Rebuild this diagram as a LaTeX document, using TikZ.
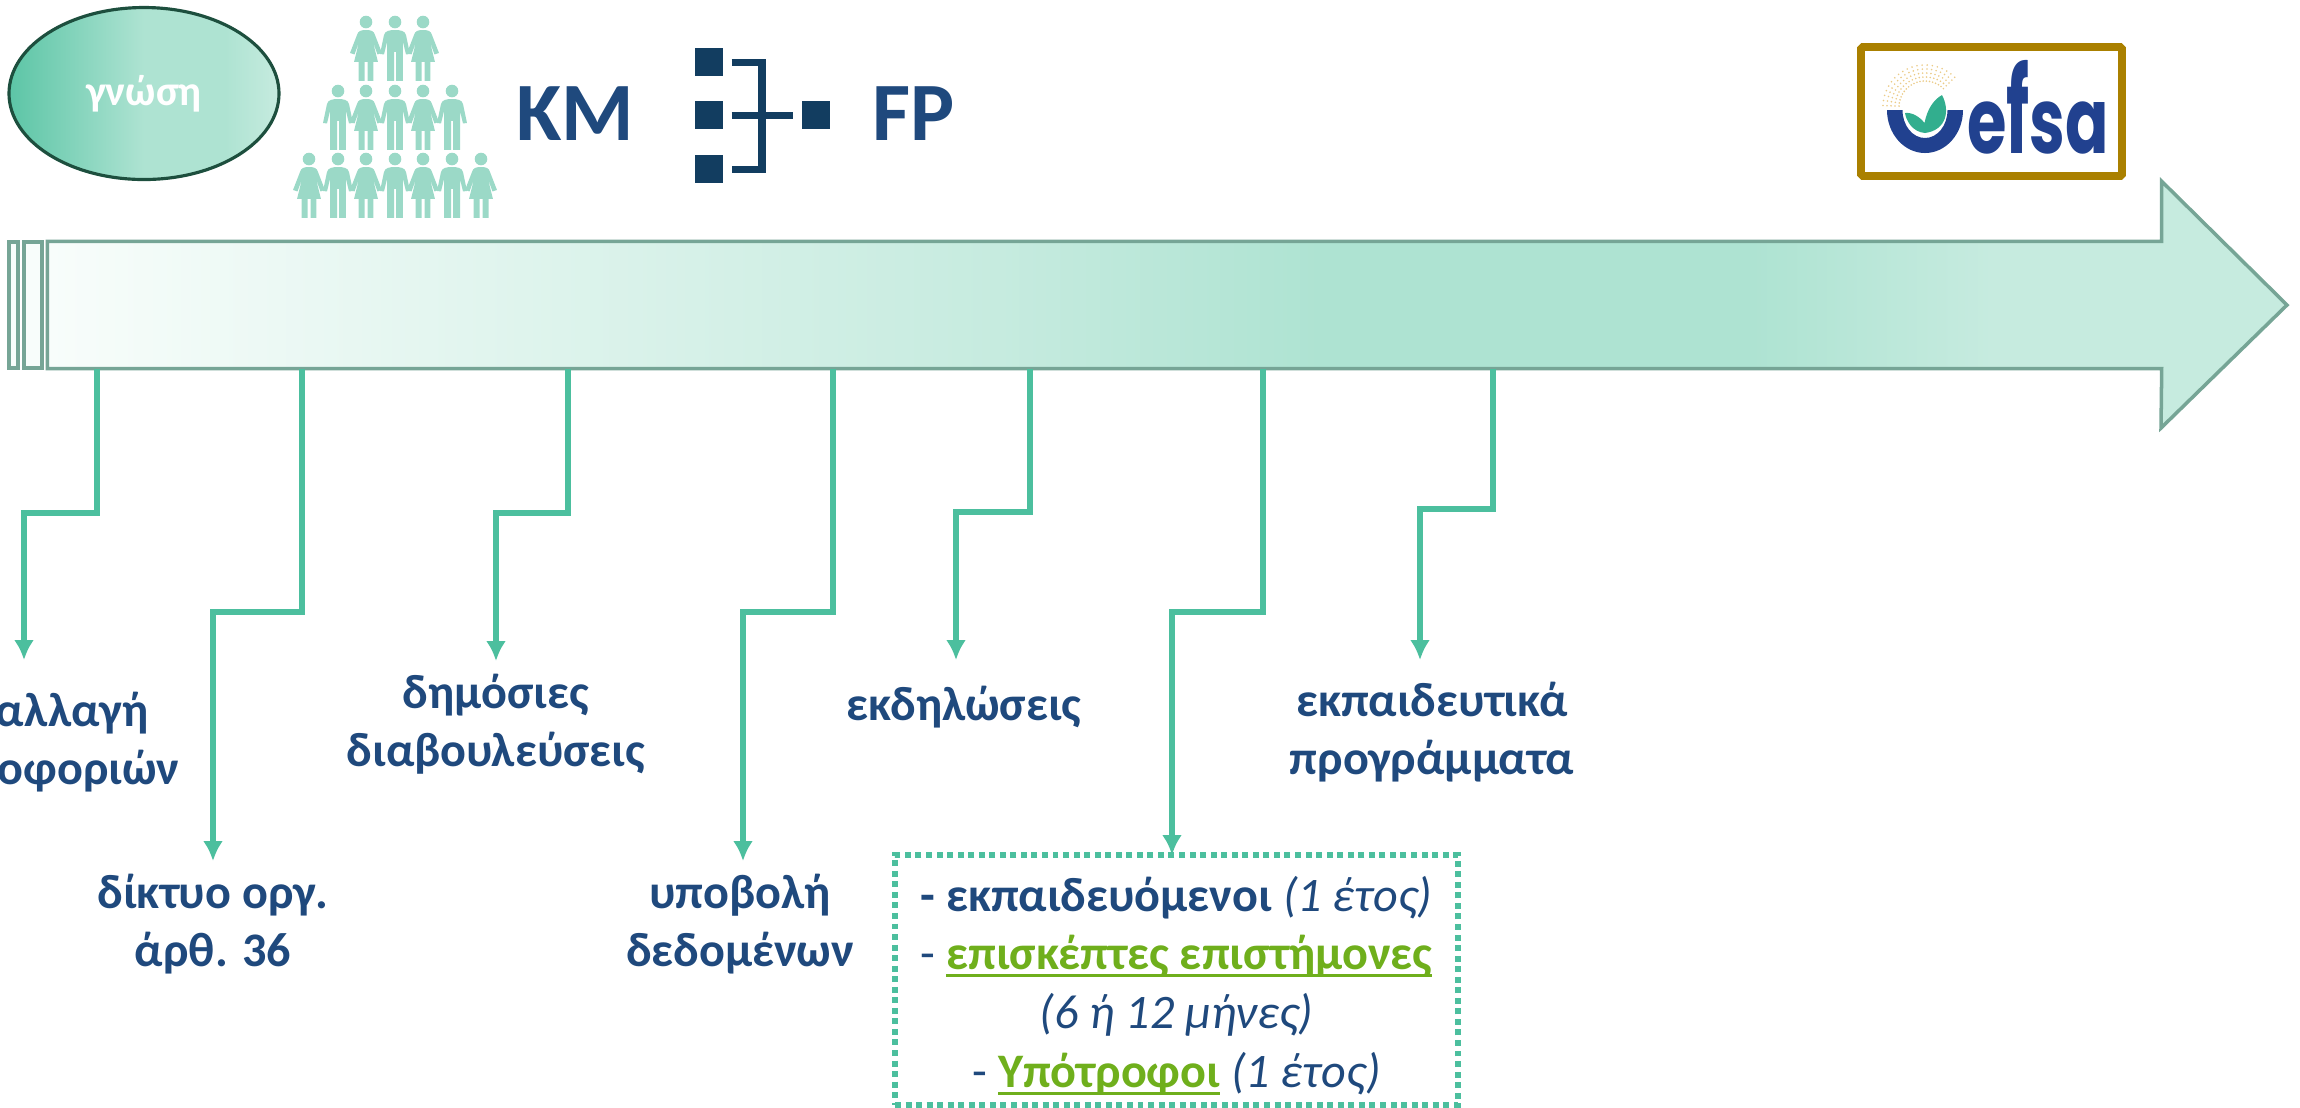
\documentclass[tikz,border=0pt]{standalone}
\usepackage{fontspec}
\usepackage{graphicx}
\setmainfont{Carlito}
\newfontfamily\logofont{Poppins}
\definecolor{labelblue}{HTML}{1F497D}
\definecolor{linkgreen}{HTML}{4CBF9E}
\definecolor{peoplegreen}{HTML}{9BD9C7}
\definecolor{orgblue}{HTML}{123D60}
\definecolor{visitgreen}{HTML}{6FAF1C}
\definecolor{edgegrey}{HTML}{76A596}
\definecolor{headgreen}{HTML}{C6EBDF}
\definecolor{midgreen}{HTML}{AEE3D2}
\definecolor{palegreen}{HTML}{F8FDFB}
\definecolor{logoblue}{HTML}{21418F}
\definecolor{logoleaf}{HTML}{32AE8E}
\definecolor{logodots}{HTML}{EBCB88}
\definecolor{logogold}{HTML}{AA8000}
\definecolor{knowedge}{HTML}{1D4F3E}
\definecolor{knowleft}{HTML}{5CC5A6}
\pgfdeclarehorizontalshading{shaftshade}{100bp}{color(0bp)=(palegreen); color(25bp)=(palegreen); color(47.5bp)=(headgreen); color(55.1bp)=(midgreen); color(65.3bp)=(midgreen); color(71bp)=(headgreen); color(100bp)=(headgreen)}
\pgfdeclarehorizontalshading{knowshade}{100bp}{color(0bp)=(knowleft); color(25bp)=(knowleft); color(50bp)=(midgreen); color(65bp)=(midgreen); color(75bp)=(headgreen); color(100bp)=(headgreen)}
\newcommand{\undertext}[1]{\setbox0=\hbox{#1}\rlap{\rule[-0.15em]{\wd0}{0.055em}}\box0}
\tikzset{
  labeltext/.style={align=center,inner xsep=0pt,inner ysep=.15cm,anchor=north,text=labelblue,
    font=\fontsize{13.7}{16.7}\selectfont\bfseries,execute at begin node=\strut},
  link/.style={draw=linkgreen,line width=1.6pt,shorten >=-.03cm,-{Latex[length=.2cm,width=.2cm]}},
  stripe/.style={draw=edgegrey,line width=1pt,fill=palegreen,inner sep=0pt,minimum height=1.26cm},
  orgsquare/.style={fill=orgblue,inner sep=0pt,minimum width=.28cm,minimum height=.28cm},
  orgline/.style={draw=orgblue,line width=2pt},
  bigtext/.style={text=labelblue,font=\fontsize{23.6}{28}\selectfont\bfseries,anchor=base,inner sep=0pt},
  woman/.pic={
    \fill[peoplegreen] (0,-6) circle[radius=6.3];
    \fill[peoplegreen] (0,-14) .. controls (-5,-14) and (-8,-15) .. (-9,-19) -- (-16,-37) -- (-11.5,-38.5) -- (-7,-26) -- (-12,-46) -- (-7.5,-46) -- (-7.5,-65) -- (-1.5,-65) -- (-1.5,-46) -- (1.5,-46) -- (1.5,-65) -- (7.5,-65) -- (7.5,-46) -- (12,-46) -- (7,-26) -- (11.5,-38.5) -- (16,-37) -- (9,-19) .. controls (8,-15) and (5,-14) .. (0,-14) -- cycle;
  },
  man/.pic={
    \fill[peoplegreen] (0,-6) circle[radius=6.3];
    \fill[peoplegreen] (0,-14) .. controls (-6,-14) and (-10,-15) .. (-11,-19) -- (-15,-38) -- (-11,-38.5) -- (-8,-26) -- (-8,-65) -- (-1,-65) -- (-1,-36) -- (1,-36) -- (1,-65) -- (8,-65) -- (8,-26) -- (11,-38.5) -- (15,-38) -- (11,-19) .. controls (10,-15) and (6,-14) .. (0,-14) -- cycle;
  },
}
\usetikzlibrary{arrows.meta,shapes.geometric}
\begin{document}
\begin{tikzpicture}
\useasboundingbox (0,0) rectangle (23,-11.07);
% top row
\node[ellipse,draw=knowedge,line width=.9pt,shading=knowshade,minimum width=2.7cm,minimum height=1.72cm,inner sep=0pt,
  text=white,font=\fontsize{12}{14}\selectfont\bfseries] (know) at (1.44,-.935) {\raisebox{-.04cm}{γνώση}};
\foreach \x/\kind in {3.66/woman,3.95/man,4.23/woman}
  \pic[scale=.01] at (\x,-.16) {\kind};
\foreach \x/\kind in {3.38/man,3.66/woman,3.95/man,4.23/woman,4.52/man}
  \pic[scale=.01] at (\x,-.85) {\kind};
\foreach \x/\kind in {3.09/woman,3.38/man,3.66/woman,3.95/man,4.23/woman,4.52/man,4.81/woman}
  \pic[scale=.01] at (\x,-1.53) {\kind};
\node[bigtext] (km) at (5.75,-1.4) {ΚΜ};
\node[orgsquare] (sq1) at (7.09,-.62) {};
\node[orgsquare] (sq2) at (7.09,-1.15) {};
\node[orgsquare] (sq3) at (7.09,-1.69) {};
\node[orgsquare] (sq4) at (8.16,-1.15) {};
\coordinate (orgmid) at (7.62,-1.15);
\draw[orgline,shorten <=.08cm,shorten >=.08cm] (sq1.east) -| (orgmid) |- (sq3.east);
\draw[orgline,shorten <=.08cm,shorten >=.08cm] (sq2.east) -- (sq4.west);
\node[bigtext] (fp) at (9.14,-1.4) {FP};
% logo
\foreach \r in {2.6,3,3.4,3.8,4.2}
  \foreach \a in {45,52,...,180}
    \fill[logodots] (19.25,-1.07) ++(\a:.1*\r) circle[radius=.009];
\fill[logoblue] (18.87,-1.1) arc[start angle=180,end angle=360,x radius=.38,y radius=.43] -- ++(-.155,0) arc[start angle=0,end angle=-180,x radius=.225,y radius=.28] -- cycle;
\fill[logoleaf] (19.25,-1.33) .. controls (19.12,-1.32) and (19.06,-1.2) .. (19.05,-1.13) .. controls (19.12,-1.12) and (19.2,-1.17) .. (19.245,-1.23) .. controls (19.27,-1.1) and (19.33,-1) .. (19.42,-.95) .. controls (19.5,-1.1) and (19.47,-1.3) .. (19.25,-1.33) -- cycle;
\node[text=logoblue,inner sep=0pt,anchor=base west,xscale=.7,font=\logofont\bfseries\fontsize{26}{30}\selectfont] (efsa) at (19.67,-1.53) {e\scalebox{1}[1.3]{f}sa};
\node[draw=logogold,line width=2.2pt,rounded corners=.5pt,minimum width=2.61cm,minimum height=1.29cm,inner sep=0pt] (logo) at (19.915,-1.115) {};
% time arrow
\node[stripe,minimum width=.09cm] (bar1) at (.135,-3.05) {};
\node[stripe,minimum width=.18cm] (bar2) at (.33,-3.05) {};
\node[shading=shaftshade,minimum width=21.13cm,minimum height=1.26cm,inner sep=0pt] (shaft) at (11.045,-3.05) {};
\fill[headgreen] ([xshift=-.02cm]shaft.north east) -- ++(.02,0) -- ++(0,.6) -- (22.87,-3.05) -- (21.61,-4.28) -- (shaft.south east) -- ++(-.02,0) -- cycle;
\draw[edgegrey,line width=1pt] (shaft.north east) -- ++(0,.6) -- (22.87,-3.05) -- (21.61,-4.28) -- (shaft.south east) -- (shaft.south west) -- (shaft.north west) -- cycle;
% labels
\node[labeltext,inner ysep=.34cm] (exch) at (.37,-6.57) {ανταλλαγή\\πληροφοριών};
\node[labeltext] (net) at (2.13,-8.58) {δίκτυο οργ.\\άρθ. 36};
\node[labeltext] (cons) at (4.96,-6.58) {δημόσιες\\διαβουλεύσεις};
\node[labeltext] (data) at (7.4,-8.58) {υποβολή\\δεδομένων};
\node[labeltext,inner ysep=.22cm] (events) at (9.64,-6.57) {εκδηλώσεις};
\node[labeltext,inner ysep=.24cm] (train) at (14.32,-6.57) {εκπαιδευτικά\\προγράμματα};
\node[draw=linkgreen,line width=1.7pt,dash pattern=on 1.7pt off 1.3pt,minimum width=5.63cm,minimum height=2.5cm,inner sep=0pt,align=center,
  text=labelblue,font=\fontsize{13.7}{16.7}\selectfont] (trainees) at (11.765,-9.8) {%
  \rule{0pt}{.46cm}\textbf{- εκπαιδευόμενοι} \textit{(1 έτος)}\\
  - \textcolor{visitgreen}{\undertext{\textbf{επισκέπτες επιστήμονες}}}\\
  \textit{(6 ή 12 μήνες)}\\
  - \textcolor{visitgreen}{\undertext{\textbf{Υπότροφοι}}} \textit{(1 έτος)}};
% connectors
\coordinate (e1) at (.97,-5.13);
\coordinate (e2) at (3.02,-6.12);
\coordinate (e3) at (5.68,-5.13);
\coordinate (e4) at (8.33,-6.12);
\coordinate (e5) at (10.3,-5.12);
\coordinate (e6) at (12.63,-6.12);
\coordinate (e7) at (14.93,-5.09);
\draw[link] (shaft.south -| e1) -- (e1) -| ([xshift=-.13cm]exch.north);
\draw[link] (shaft.south -| e2) -- (e2) -| (net.north);
\draw[link] (shaft.south -| e3) -- (e3) -| (cons.north);
\draw[link] (shaft.south -| e4) -- (e4) -| ([xshift=.03cm]data.north);
\draw[link] (shaft.south -| e5) -- (e5) -| ([xshift=-.08cm]events.north);
\draw[link] (shaft.south -| e6) -- (e6) -| ([xshift=-.045cm]trainees.north);
\draw[link] (shaft.south -| e7) -- (e7) -| ([xshift=-.12cm]train.north);
\end{tikzpicture}
\end{document}
